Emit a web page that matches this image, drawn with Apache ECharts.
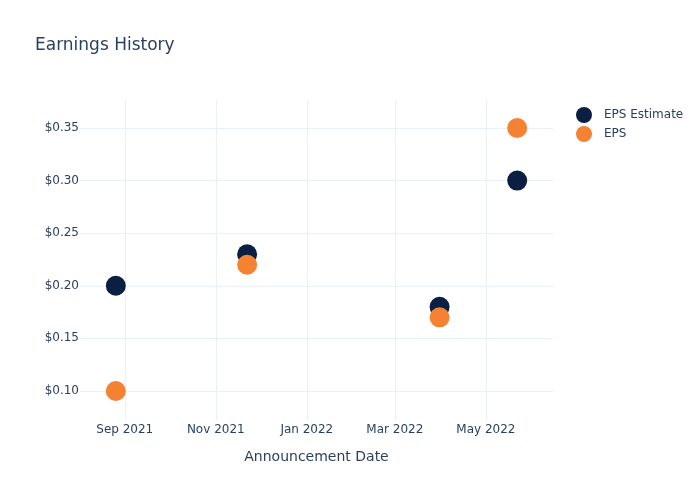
<!DOCTYPE html>
<html><head><meta charset="utf-8">
<script src="https://cdn.jsdelivr.net/npm/echarts@6/dist/echarts.min.js"></script>
<style>html,body{margin:0;padding:0;background:#fff}#c{width:700px;height:500px}</style>
</head><body><div id="c"></div>
<script>
const dates = ['2021-08-26', '2021-11-22', '2022-03-31', '2022-05-22'];
const epsEstimate = [0.20, 0.23, 0.18, 0.30];
const eps = [0.10, 0.22, 0.17, 0.35];
const xTicks = ['2021-09-01', '2021-11-01', '2022-01-01', '2022-03-01', '2022-05-01'];
const yTicks = [0.10, 0.15, 0.20, 0.25, 0.30, 0.35];

const font = 'DejaVu Sans, Verdana, sans-serif';
const txt = '#2a3f5f';
const grid = '#ebf0f8';
const ts = d => new Date(d + 'T00:00:00Z').getTime();
const MON = ['Jan','Feb','Mar','Apr','May','Jun','Jul','Aug','Sep','Oct','Nov','Dec'];

const chart = echarts.init(document.getElementById('c'), null, {renderer: 'canvas'});
chart.setOption({
  backgroundColor: '#fff',
  animation: false,
  title: {text: 'Earnings History', left: 30, top: 32,
    textStyle: {fontFamily: font, fontSize: 17, fontWeight: 'normal', color: txt}},
  legend: {orient: 'vertical', left: 571, top: 102, itemGap: 3, itemWidth: 16, itemHeight: 16,
    icon: 'circle', textStyle: {fontFamily: font, fontSize: 12, color: txt, padding: [0, 0, 0, 7]},
    data: ['EPS Estimate', 'EPS']},
  grid: {left: 80, right: 147, top: 100, bottom: 80, containLabel: false},
  xAxis: {
    type: 'value', min: ts('2021-08-02'), max: ts('2022-06-15'),
    name: 'Announcement Date', nameLocation: 'middle', nameGap: 30,
    nameTextStyle: {fontFamily: font, fontSize: 14, color: txt},
    axisLine: {show: false}, 
    axisTick: {show: false, customValues: xTicks.map(ts)},
    axisLabel: {customValues: xTicks.map(ts), fontFamily: font, fontSize: 12, color: txt, margin: 4,
      formatter: v => { const d = new Date(v); return MON[d.getUTCMonth()] + ' ' + d.getUTCFullYear(); }},
    splitLine: {show: true, lineStyle: {color: grid, width: 1}}
  },
  yAxis: {
    type: 'value', min: 0.0724, max: 0.3766,
    axisLine: {show: false},
    axisTick: {show: false, customValues: yTicks},
    axisLabel: {customValues: yTicks, fontFamily: font, fontSize: 12, color: txt, margin: 1,
      padding: [3, 0, 0, 0],
      formatter: v => '$' + v.toFixed(2)},
    splitLine: {show: true, lineStyle: {color: grid, width: 1}}
  },
  series: [
    {name: 'EPS Estimate', type: 'scatter', symbolSize: 20, itemStyle: {color: '#0b1f42', opacity: 1},
      data: dates.map((d, i) => [ts(d), epsEstimate[i]])},
    {name: 'EPS', type: 'scatter', symbolSize: 20, itemStyle: {color: '#f58233', opacity: 1},
      data: dates.map((d, i) => [ts(d), eps[i]])}
  ]
});
</script></body></html>
